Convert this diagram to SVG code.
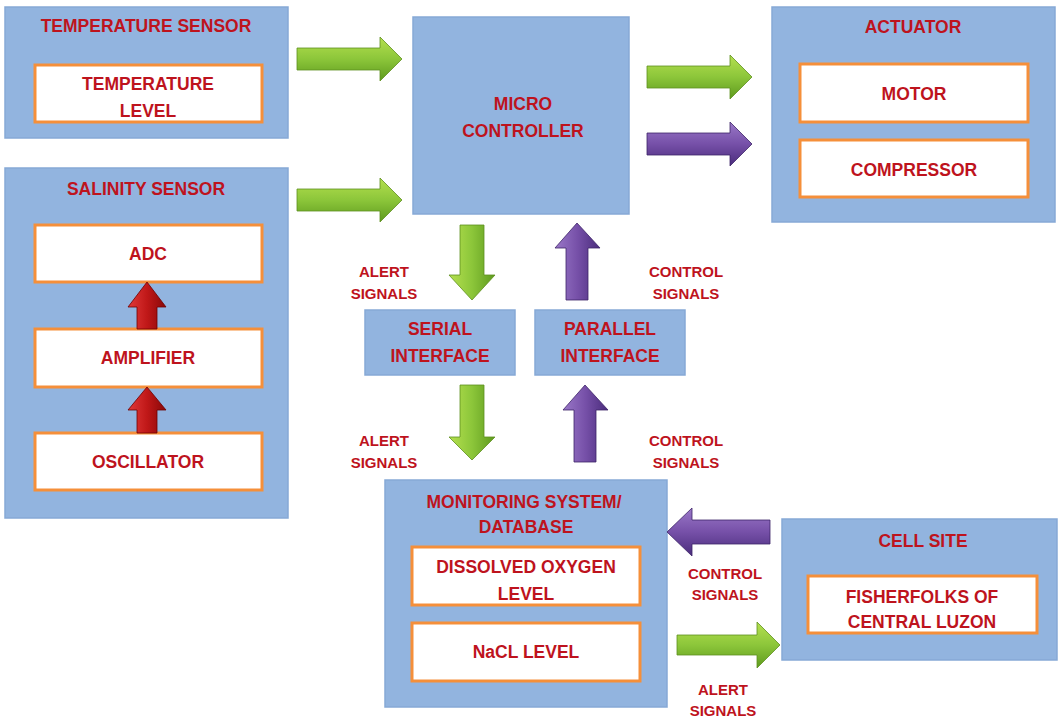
<svg xmlns="http://www.w3.org/2000/svg" width="1061" height="717" viewBox="0 0 1061 717">
<defs>
<style>
.blk{fill:#92B4DF;stroke:#86A9D6;stroke-width:1.5}
.inner{fill:#FFFFFF;stroke:#F58F3A;stroke-width:3}
text{font-family:"Liberation Sans",Arial,sans-serif;font-weight:bold;fill:#BE131D;text-anchor:middle}
.t{font-size:17.5px}
.l{font-size:15px}
.g{stroke:#5E8F1E;stroke-width:0.8}
.p{stroke:#3E2468;stroke-width:0.8}
.r{stroke:#6E0000;stroke-width:0.8}
</style>
<linearGradient id="gH" x1="0" y1="0" x2="0" y2="1"><stop offset="0" stop-color="#B5E04F"/><stop offset="0.5" stop-color="#8CC63A"/><stop offset="1" stop-color="#5E9A1E"/></linearGradient>
<linearGradient id="gV" x1="0" y1="0" x2="1" y2="0"><stop offset="0" stop-color="#B5E04F"/><stop offset="0.5" stop-color="#8CC63A"/><stop offset="1" stop-color="#5E9A1E"/></linearGradient>
<linearGradient id="pH" x1="0" y1="0" x2="0" y2="1"><stop offset="0" stop-color="#9A78C8"/><stop offset="0.5" stop-color="#7650A8"/><stop offset="1" stop-color="#4A2C7C"/></linearGradient>
<linearGradient id="pV" x1="0" y1="0" x2="1" y2="0"><stop offset="0" stop-color="#9A78C8"/><stop offset="0.5" stop-color="#7650A8"/><stop offset="1" stop-color="#4A2C7C"/></linearGradient>
<linearGradient id="rV" x1="0" y1="0" x2="1" y2="0"><stop offset="0" stop-color="#E03A3A"/><stop offset="0.5" stop-color="#C01818"/><stop offset="1" stop-color="#880808"/></linearGradient>
</defs>
<rect width="1061" height="717" fill="#FFFFFF"/>

<g id="temperature-sensor">
<rect class="blk" x="5" y="7" width="283" height="131"/>
<text class="t" x="146" y="32">TEMPERATURE SENSOR</text>
<rect class="inner" x="35" y="65" width="227" height="57"/>
<text class="t" x="148" y="90">TEMPERATURE</text>
<text class="t" x="148" y="117">LEVEL</text>
</g>

<g id="salinity-sensor">
<rect class="blk" x="5" y="168" width="283" height="350"/>
<text class="t" x="146" y="195">SALINITY SENSOR</text>
<g id="adc"><rect class="inner" x="35" y="225" width="227" height="57"/><text class="t" x="148" y="260">ADC</text></g>
<g id="amplifier"><rect class="inner" x="35" y="329" width="227" height="58"/><text class="t" x="148" y="364">AMPLIFIER</text></g>
<g id="oscillator"><rect class="inner" x="35" y="433" width="227" height="57"/><text class="t" x="148" y="468">OSCILLATOR</text></g>
</g>

<g id="micro-controller">
<rect class="blk" x="413" y="17" width="216" height="197"/>
<text class="t" x="523" y="110">MICRO</text>
<text class="t" x="523" y="137">CONTROLLER</text>
</g>

<g id="actuator">
<rect class="blk" x="772" y="7" width="283" height="215"/>
<text class="t" x="913" y="33">ACTUATOR</text>
<g id="motor"><rect class="inner" x="800" y="64" width="228" height="58"/><text class="t" x="914" y="100">MOTOR</text></g>
<g id="compressor"><rect class="inner" x="800" y="140" width="228" height="57"/><text class="t" x="914" y="176">COMPRESSOR</text></g>
</g>

<g id="serial-interface">
<rect class="blk" x="365" y="310" width="150" height="65"/>
<text class="t" x="440" y="335">SERIAL</text>
<text class="t" x="440" y="362">INTERFACE</text>
</g>

<g id="parallel-interface">
<rect class="blk" x="535" y="310" width="150" height="65"/>
<text class="t" x="610" y="335">PARALLEL</text>
<text class="t" x="610" y="362">INTERFACE</text>
</g>

<g id="monitoring-system">
<rect class="blk" x="385" y="480" width="282" height="227"/>
<text class="t" x="524" y="508">MONITORING SYSTEM/</text>
<text class="t" x="526" y="533">DATABASE</text>
<g id="dissolved-oxygen"><rect class="inner" x="412" y="547" width="228" height="58"/><text class="t" x="526" y="573">DISSOLVED OXYGEN</text><text class="t" x="526" y="600">LEVEL</text></g>
<g id="nacl-level"><rect class="inner" x="412" y="623" width="228" height="58"/><text class="t" x="526" y="658">NaCL LEVEL</text></g>
</g>

<g id="cell-site">
<rect class="blk" x="782" y="519" width="275" height="141"/>
<text class="t" x="923" y="547">CELL SITE</text>
<rect class="inner" x="808" y="576" width="229" height="57"/>
<text class="t" x="922" y="603">FISHERFOLKS OF</text>
<text class="t" x="922" y="628">CENTRAL LUZON</text>
</g>

<g id="connectors">
<polygon class="g" fill="url(#gH)" points="297,48 380,48 380,37 402,59 380,81 380,70 297,70"/>
<polygon class="g" fill="url(#gH)" points="297,189 380,189 380,178 402,200 380,222 380,211 297,211"/>
<polygon class="g" fill="url(#gH)" points="647,66 730,66 730,55 752,77 730,99 730,88 647,88"/>
<polygon class="p" fill="url(#pH)" points="647,133 730,133 730,122 752,144 730,166 730,155 647,155"/>
<polygon class="g" fill="url(#gV)" points="460,225 484,225 484,275 495,275 472,300 449,275 460,275"/>
<polygon class="p" fill="url(#pV)" points="566,300 588,300 588,248 600,248 577,223 555,248 566,248"/>
<polygon class="g" fill="url(#gV)" points="460,385 484,385 484,437 495,437 472,460 449,437 460,437"/>
<polygon class="p" fill="url(#pV)" points="574,462 596,462 596,410 608,410 585,385 563,410 574,410"/>
<polygon class="p" fill="url(#pH)" points="770,520 692,520 692,508 667,532 692,556 692,544 770,544"/>
<polygon class="g" fill="url(#gH)" points="677,635 757,635 757,622 780,645 757,668 757,655 677,655"/>
<polygon class="r" fill="url(#rV)" points="137,329 157,329 157,307 166,307 147,282 128,307 137,307"/>
<polygon class="r" fill="url(#rV)" points="137,433 157,433 157,410 166,410 147,387 128,410 137,410"/>
<text class="l" x="384" y="277">ALERT</text>
<text class="l" x="384" y="299">SIGNALS</text>
<text class="l" x="686" y="277">CONTROL</text>
<text class="l" x="686" y="299">SIGNALS</text>
<text class="l" x="384" y="446">ALERT</text>
<text class="l" x="384" y="468">SIGNALS</text>
<text class="l" x="686" y="446">CONTROL</text>
<text class="l" x="686" y="468">SIGNALS</text>
<text class="l" x="725" y="579">CONTROL</text>
<text class="l" x="725" y="600">SIGNALS</text>
<text class="l" x="723" y="695">ALERT</text>
<text class="l" x="723" y="716">SIGNALS</text>
</g>
</svg>
